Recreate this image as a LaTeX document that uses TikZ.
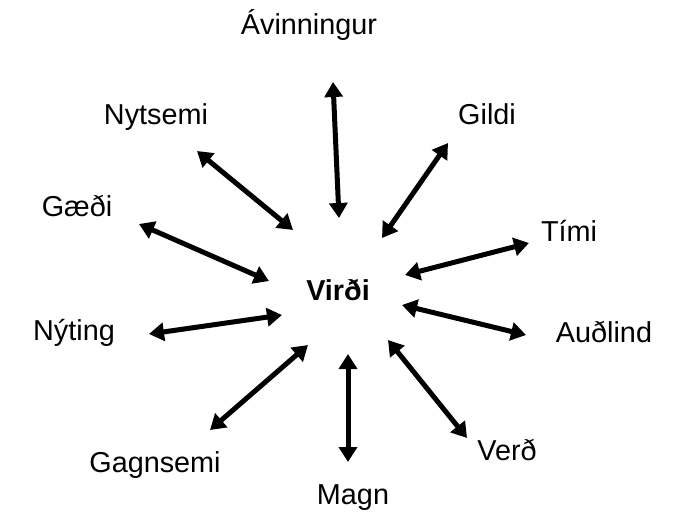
\documentclass[tikz,border=0pt]{standalone}
\usepackage{fontspec}
\setmainfont{Liberation Sans}
\usetikzlibrary{arrows.meta}

\tikzset{
	hugtak/.style={font=\fontsize{28.8}{32}\selectfont, inner sep=0pt},
	tvior/.style={line width=5pt, {Triangle[length=15pt,width=18pt]}-{Triangle[length=15pt,width=18pt]}}
}

\begin{document}
\begin{tikzpicture}[x=1pt,y=-1pt]
	\useasboundingbox (0,0) rectangle (679,523);
	% Center
	\path (338,290) node[hugtak, font=\fontsize{28.8}{32}\selectfont\bfseries] (virdi) {Virði};
	% Labels
	\path (309,25) node[hugtak] (avinningur) {Ávinningur};
	\path (487,114) node[hugtak] (gildi) {Gildi};
	\path (156,117) node[hugtak] (nytsemi) {Nytsemi};
	\path (569,231) node[hugtak] (timi) {Tími};
	\path (77,206) node[hugtak] (gaedi) {Gæði};
	\path (604,332) node[hugtak] (audlind) {Auðlind};
	\path (74,333) node[hugtak] (nyting) {Nýting};
	\path (507,450) node[hugtak] (verd) {Verð};
	\path (155,465) node[hugtak] (gagnsemi) {Gagnsemi};
	\path (353,498) node[hugtak] (magn) {Magn};
	% Arrow ends
	\coordinate (a1) at (333,82);  \coordinate (b1) at (339,218);
	\coordinate (a2) at (448,143); \coordinate (b2) at (382,238);
	\coordinate (a3) at (197,151); \coordinate (b3) at (293,230);
	\coordinate (a4) at (529,243); \coordinate (b4) at (405,275);
	\coordinate (a5) at (139,224); \coordinate (b5) at (269,281);
	\coordinate (a6) at (526,335); \coordinate (b6) at (402,305);
	\coordinate (a7) at (149,334); \coordinate (b7) at (282,315);
	\coordinate (a8) at (467,438); \coordinate (b8) at (388,340);
	\coordinate (a9) at (210,430); \coordinate (b9) at (308,345);
	\coordinate (a10) at (348,462); \coordinate (b10) at (348,354);
	\foreach \i in {1,...,10}{
		\draw[tvior] (a\i) -- (b\i);
	}
\end{tikzpicture}
\end{document}
